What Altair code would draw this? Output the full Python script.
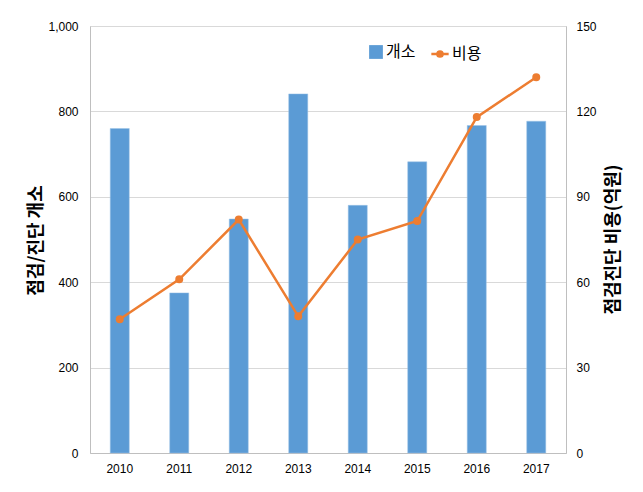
import altair as alt
import pandas as pd

years = ["2010", "2011", "2012", "2013", "2014", "2015", "2016", "2017"]
sites = [760, 375, 548, 841, 580, 682, 767, 777]
costs = [47, 61, 82, 48, 75, 81.5, 118, 132]

df = pd.DataFrame({"year": years, "sites": sites, "costs": costs,
                   "s1": ["개소"] * len(years), "s2": ["비용"] * len(years)})

KFONT = "Noto Sans CJK KR"
NFONT = "Liberation Sans Narrow, Liberation Sans, Arial"
BLUE = "#5B9BD5"
ORANGE = "#ED7D31"

x = alt.X("year:N", title=None,
          scale=alt.Scale(paddingInner=0.68, paddingOuter=0.34),
          axis=alt.Axis(labelAngle=0, labelFont=NFONT, labelFontSize=12, labelColor="#000000",
                        ticks=False, domainColor="#BFBFBF", labelPadding=10))

bars = alt.Chart(df).mark_bar(stroke="#9DC3E6", strokeWidth=0.5).encode(
    x=x,
    y=alt.Y("sites:Q", scale=alt.Scale(domain=[0, 1000]),
            axis=alt.Axis(title="점검/진단 개소", values=[0, 200, 400, 600, 800, 1000], format=",.0f",
                          labelFont=NFONT, labelFontSize=12, labelColor="#000000", ticks=False,
                          domainColor="#BFBFBF", gridColor="#D9D9D9", labelPadding=12,
                          titleFont=KFONT, titleFontSize=18, titleFontWeight="bold",
                          titleAngle=270, titleX=-54, titleY=214, titleAlign="center",
                          titleBaseline="middle", titleColor="#000000")),
    fill=alt.Fill("s1:N", scale=alt.Scale(range=[BLUE]),
                  legend=alt.Legend(title=None, orient="none", legendX=278, legendY=18,
                                    symbolType="square", symbolSize=190, labelFont=KFONT,
                                    labelFontSize=16, labelColor="#000000", padding=0, labelOffset=2,
                                    symbolStrokeWidth=0)),
)

line = alt.Chart(df).mark_line(point=alt.OverlayMarkDef(filled=True, fill=ORANGE, size=36),
                               strokeWidth=2.5).encode(
    x=x,
    y=alt.Y("costs:Q", scale=alt.Scale(domain=[0, 150]),
            axis=alt.Axis(title="점검진단 비용(억원)", orient="right", values=[0, 30, 60, 90, 120, 150],
                          labelFont=NFONT, labelFontSize=12, labelColor="#000000", ticks=False,
                          grid=False, domainColor="#BFBFBF", labelPadding=10,
                          titleFont=KFONT, titleFontSize=18, titleFontWeight="bold",
                          titleAngle=270, titleX=47, titleY=213, titleAlign="center",
                          titleBaseline="middle", titleColor="#000000")),
    stroke=alt.Stroke("s2:N", scale=alt.Scale(range=[ORANGE]),
                      legend=alt.Legend(title=None, orient="none", legendX=340, legendY=18,
                                        symbolType="M-1,0L1,0M-0.3,0a0.3,0.3 0 1,0 0.6,0a0.3,0.3 0 1,0 -0.6,0",
                                        symbolSize=300, symbolStrokeWidth=2.5, symbolFillColor=ORANGE,
                                        labelFont=KFONT, labelFontSize=16, labelColor="#000000",
                                        padding=0, labelOffset=2)),
)

chart = alt.layer(bars, line).resolve_scale(y="independent").resolve_legend(
    fill="independent", stroke="independent"
).properties(
    width=476, height=427, autosize="none",
    padding={"left": 90, "top": 26, "right": 77, "bottom": 39},
).configure_view(stroke=None).configure(background="white")

chart.save("out.html", embed_options={"renderer": "svg", "actions": False})
